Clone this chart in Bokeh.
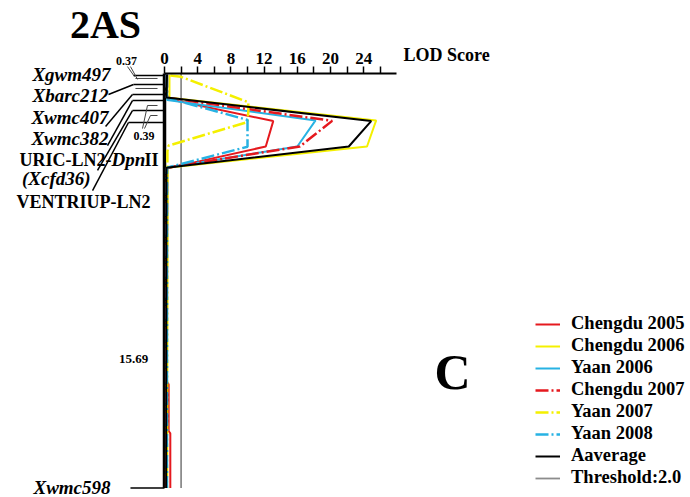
from bokeh.plotting import figure
from bokeh.models import (Range1d, FixedTicker, ColumnDataSource, Label, LabelSet,
                          Legend, LegendItem)
from bokeh.embed import file_html
from bokeh.resources import INLINE
from bokeh.core.properties import value

# ---------------- data (LOD score, map position in cM) ----------------
marker_names = ["Xgwm497", "Xbarc212", "Xwmc407", "Xwmc382",
                "URIC-LN2-DpnII (Xcfd36)", "VENTRIUP-LN2", "Xwmc598"]
marker_cM = [0.04, 0.43, 0.86, 1.12, 1.55, 2.06, 17.75]
interval_labels = ["0.37", "0.39", "15.69"]

lod_ticks = [0, 4, 8, 12, 16, 20, 24]
lod_minor = [2, 6, 10, 14, 18, 22, 26]
threshold = 2.0

series_names = ["Chengdu 2005", "Chengdu 2006", "Yaan 2006",
                "Chengdu 2007", "Yaan 2007", "Yaan 2008", "Aaverage"]

cd2005_lod = [0.3, 0.33, 13.1, 12.2, 0.33, 0.3, 0.5, 0.5, 0.7, 0.7]
cd2005_cm = [0.0, 1.04, 2.0, 3.09, 4.03, 13.2, 13.3, 15.3, 15.4, 17.75]

cd2006_lod = [0.6, 0.6, 25.5, 24.4, 0.33, 0.3, 0.3]
cd2006_cm = [0.02, 1.0, 1.97, 3.09, 4.0, 10.0, 17.75]

ya2006_lod = [0.25, 0.33, 18.2, 16.0, 0.33, 0.25]
ya2006_cm = [0.0, 1.1, 1.97, 3.09, 4.0, 17.75]

cd2007_lod = [0.3, 0.3, 20.2, 16.3, 0.3, 0.2]
cd2007_cm = [0.0, 1.0, 1.99, 3.09, 4.0, 17.75]

ya2007_lod = [0.7, 2.0, 10.1, 10.1, 10.0, 0.5, 0.35, 0.35, 0.3]
ya2007_cm = [0.04, 0.1, 1.19, 1.6, 2.04, 3.05, 3.3, 4.0, 17.75]

ya2008_lod = [0.3, 0.3, 10.0, 10.0, 0.3, 0.3]
ya2008_cm = [0.0, 1.0, 1.95, 3.1, 4.0, 17.75]

avg_lod = [0.3, 0.24, 24.9, 22.2, 0.24, 0.2]
avg_cm = [0.0, 0.99, 2.0, 3.09, 4.0, 17.75]

# ---------------- styling ----------------
SERIF = "Liberation Serif"
RED, YEL, CYA = "#e5191e", "#f4f000", "#27b2e3"
DASH = "13 3 2 3"
TOP = -0.043          # map position where the LOD axis is drawn

p = figure(width=690, height=497,
           x_range=Range1d(-19.759, 63.373), y_range=Range1d(18.155, -3.176),
           x_axis_location="above", y_axis_location=None,
           output_backend="svg", toolbar_location=None,
           min_border_top=0, min_border_left=0, min_border_right=0,
           min_border_bottom=0)
p.xgrid.visible = False
p.ygrid.visible = False
p.outline_line_color = None
p.background_fill_color = "white"

ax = p.xaxis[0]
ax.fixed_location = TOP
ax.ticker = FixedTicker(ticks=lod_ticks, minor_ticks=lod_minor)
ax.bounds = (0, 28)
ax.axis_line_width = 2
ax.axis_line_color = "black"
ax.major_tick_in = 0
ax.major_tick_out = 7
ax.minor_tick_in = 0
ax.minor_tick_out = 7
ax.major_tick_line_width = 1.5
ax.minor_tick_line_width = 1.5
ax.major_tick_line_color = "black"
ax.minor_tick_line_color = "black"
ax.major_label_standoff = 2
ax.major_label_text_font = SERIF
ax.major_label_text_font_style = "bold"
ax.major_label_text_font_size = "17px"
ax.major_label_text_color = "black"

# threshold line
thr = p.line([threshold, threshold], [TOP, marker_cM[-1]], line_color="#8c8c8c",
             line_width=1.8)

# chromosome
p.line([0, 0], [TOP, marker_cM[-1]], line_color="black", line_width=3.5)

# marker ticks on the chromosome
tick_x0 = [-3.73, -3.73, -3.86, -3.86, -3.86, -4.34, -4.1]
p.segment(x0=tick_x0, y0=marker_cM, x1=[0] * len(marker_cM), y1=marker_cM,
          line_color="black", line_width=1.5)

# interval brackets
p.segment(x0=[-3.5, -3.5, -2.05, -1.69], y0=[0.17, 0.60, 1.33, 1.76],
          x1=[-0.84, -0.84, -0.84, -0.84], y1=[0.17, 0.60, 1.33, 1.76],
          line_color="#444444", line_width=1)
p.segment(x0=[-4.46, -4.10, -2.05, -1.69], y0=[-0.34, -0.34, 1.33, 1.76],
          x1=[-3.61, -3.25, -2.65, -2.41], y1=[0.09, 0.21, 2.32, 2.32],
          line_color="#444444", line_width=1)

# leaders from labels to markers
lead_x0 = [-6.75, -7.1, -6.87, -8.07, -8.67]
lead_y0 = [0.86, 2.23, 3.05, 4.12, 4.98]
p.segment(x0=lead_x0, y0=lead_y0, x1=tick_x0[1:6], y1=marker_cM[1:6],
          line_color="black", line_width=1.5)

# LOD curves
r05 = p.line(cd2005_lod, cd2005_cm, line_color=RED, line_width=2)
r06 = p.line(cd2006_lod, cd2006_cm, line_color=YEL, line_width=2)
ry06 = p.line(ya2006_lod, ya2006_cm, line_color=CYA, line_width=2)
r07 = p.line(cd2007_lod, cd2007_cm, line_color=RED, line_width=2.5, line_dash=DASH)
ry07 = p.line(ya2007_lod, ya2007_cm, line_color=YEL, line_width=2.5, line_dash=DASH)
ry08 = p.line(ya2008_lod, ya2008_cm, line_color=CYA, line_width=2.5, line_dash=DASH)
ravg = p.line(avg_lod, avg_cm, line_color="black", line_width=2)

# ---------------- texts ----------------
def lab(x, y, t, size, style="bold", align="center", xo=0, base="middle"):
    p.add_layout(Label(x=x, y=y, text=t, text_font=SERIF, text_font_style=style,
                       text_font_size=size, text_align=align, text_baseline=base,
                       x_offset=xo, text_color="black"))

lab(-7.11, -2.15, "2AS", "40px")
lab(28.8, -0.82, "LOD Score", "18px", align="left")
lab(-4.58, -0.60, interval_labels[0], "12px")
lab(-2.47, 2.66, interval_labels[1], "12px")
lab(-3.73, 12.19, interval_labels[2], "13px")
lab(34.7, 12.75, "C", "50px")

ital = ColumnDataSource(dict(
    x=[-6.5, -6.75, -6.75, -6.75, -8.9, -6.5],
    y=[0.0, 0.90, 1.85, 2.75, 4.46, 17.72],
    t=[marker_names[0], marker_names[1], marker_names[2], marker_names[3],
       "(Xcfd36)", marker_names[6]]))
p.add_layout(LabelSet(x="x", y="y", text="t", source=ital, text_font=value(SERIF),
                      text_font_style="bold italic", text_font_size="19px",
                      text_align="right", text_baseline="middle", text_color="black"))

lab(-6.39, 3.65, "URIC-LN2-", "18px", align="right")
lab(-6.39, 3.65, "Dpn", "19px", style="bold italic", align="left")
lab(-6.39, 3.65, "II", "18px", align="left", xo=33)
lab(-1.69, 5.49, marker_names[5], "18px", align="right")

# ---------------- legend ----------------
items = [LegendItem(label=n, renderers=[r]) for n, r in
         zip(series_names, [r05, r06, ry06, r07, ry07, ry08, ravg])]
items.append(LegendItem(label="Threshold:2.0", renderers=[thr]))
leg = Legend(items=items, location=(535, 9), padding=0, margin=0,
             border_line_color=None, background_fill_alpha=0,
             glyph_width=25, glyph_height=20, label_height=20, spacing=1,
             label_standoff=11, label_text_font=SERIF,
             label_text_font_style="bold", label_text_font_size="18.5px",
             label_text_color="black")
p.add_layout(leg)

open("out.html", "w").write(file_html(p, INLINE))
